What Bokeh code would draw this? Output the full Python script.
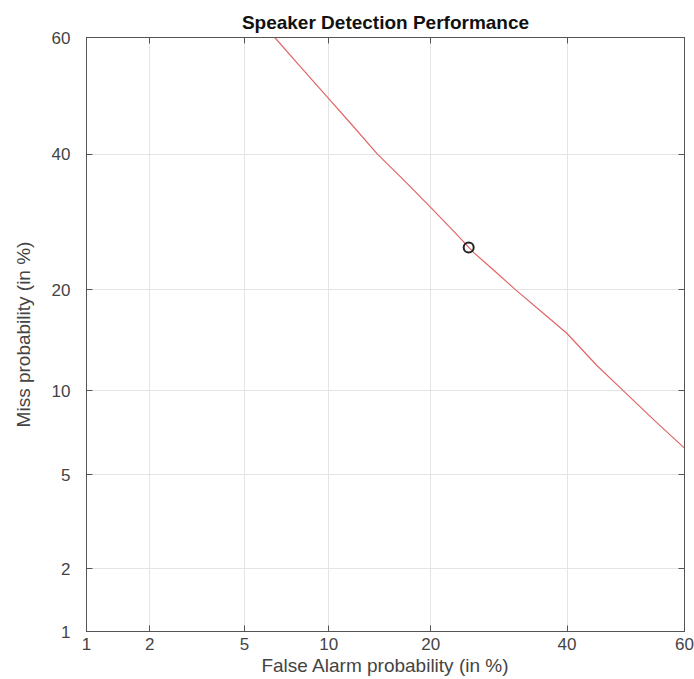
from statistics import NormalDist
from bokeh.plotting import figure
from bokeh.models import FixedTicker, LinearAxis, Range1d, CustomJSTickFormatter
from bokeh.embed import file_html
from bokeh.resources import INLINE

# DET curve values (in %)
fa_pct = [6.5, 8.0, 10.0, 12.0, 14.2, 17.0, 20.0, 23.0, 25.6, 28.5, 31.7, 36.0, 40.0, 45.0, 49.6, 55.0, 60.0]
miss_pct = [60.0, 55.1, 49.5, 44.7, 40.0, 35.6, 31.4, 27.7, 24.8, 22.4, 20.0, 17.3, 15.1, 12.1, 10.0, 7.9, 6.3]
# operating point
op_fa = [24.9]
op_miss = [25.5]
tick_pct = [1, 2, 5, 10, 20, 40, 60]

nd = NormalDist()
def probit(vals):
    return [nd.inv_cdf(v / 100.0) for v in vals]

tick_pos = probit(tick_pct)
overrides = {t: str(l) for t, l in zip(tick_pos, tick_pct)}

p = figure(width=694, height=679, output_backend="svg", toolbar_location=None,
           x_range=Range1d(probit([1])[0], probit([60])[0]),
           y_range=Range1d(probit([1])[0], probit([60])[0]),
           min_border_left=86, min_border_right=10, min_border_bottom=48, min_border_top=37,
           title="Speaker Detection Performance")
p.title.align = "center"
p.title.text_font = "Liberation Sans"
p.title.text_font_size = "19px"
p.title.text_font_style = "bold"
p.title.text_color = "#111111"

p.outline_line_color = "#555555"
p.outline_line_width = 1
p.background_fill_color = "white"
p.border_fill_color = "white"

for ax in (p.xaxis[0], p.yaxis[0]):
    ax.ticker = FixedTicker(ticks=tick_pos)
    ax.major_label_overrides = overrides
    ax.major_tick_in = 6
    ax.major_tick_out = 0
    ax.minor_tick_line_color = None
    ax.axis_line_color = "#555555"
    ax.major_tick_line_color = "#555555"
    ax.major_label_text_font = "Liberation Sans"
    ax.major_label_text_font_size = "17px"
    ax.major_label_text_color = "#444444"
    ax.axis_label_text_font = "Liberation Sans"
    ax.axis_label_text_font_size = "19px"
    ax.axis_label_text_font_style = "normal"
    ax.axis_label_text_color = "#444444"

p.xaxis.axis_label = "False Alarm probability (in %)"
p.yaxis.axis_label = "Miss probability (in %)"
p.xaxis.major_label_standoff = 6
p.yaxis.major_label_standoff = 16
p.xaxis.axis_label_standoff = 2
p.yaxis.axis_label_standoff = 15

for side in ("above", "right"):
    a = LinearAxis(ticker=FixedTicker(ticks=tick_pos), major_tick_in=6, major_tick_out=0,
                   minor_tick_line_color=None,
                   formatter=CustomJSTickFormatter(code="return '';"),
                   major_label_standoff=0,
                   axis_line_color="#555555", major_tick_line_color="#555555")
    p.add_layout(a, side)

p.grid.ticker = FixedTicker(ticks=tick_pos)
p.grid.grid_line_color = "#e4e4e4"
p.grid.grid_line_width = 1

p.line(probit(fa_pct), probit(miss_pct), line_color="#e06666", line_width=1.2)
p.scatter(probit(op_fa), probit(op_miss), marker="circle", size=10,
          fill_color=None, line_color="#222222", line_width=2)

open("out.html", "w").write(file_html(p, INLINE))
